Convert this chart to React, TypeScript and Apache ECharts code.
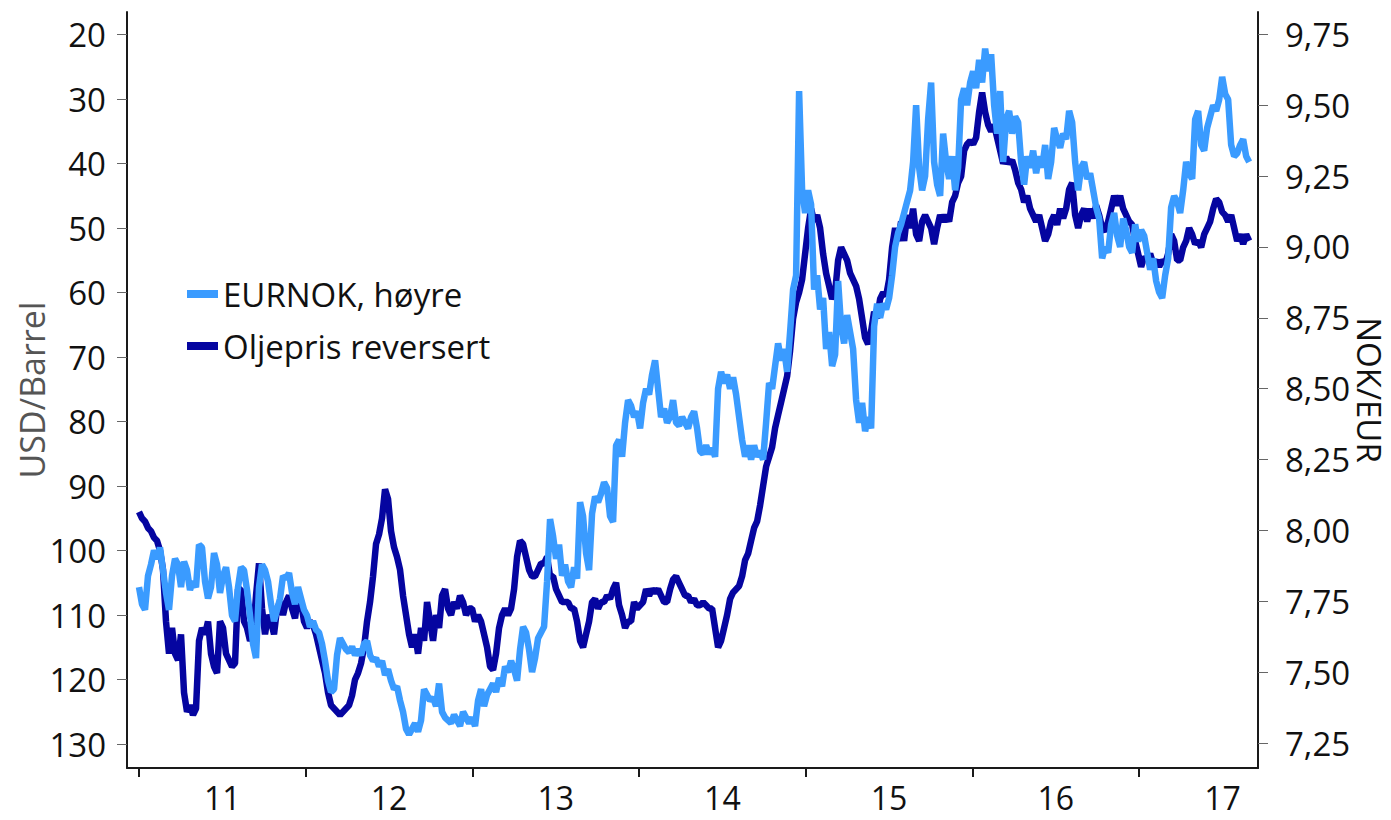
import React, { useEffect, useRef } from "react";
import * as echarts from "echarts";

// Observation dates: decimal years, start of 2011 with a fixed sampling step
const START_YEAR = 2011.0;
const STEP_YEARS = 0.018;

// Oil price, USD/Barrel (plotted reversed, left axis)
const oilPrice: number[] = [
  94, 95, 95.5, 96.5, 97, 98, 98.5, 100, 103, 111,
  116, 112, 116, 117, 113, 122, 125, 124, 125.5, 124.5,
  114, 112, 113, 111, 116, 118, 119, 111, 112, 116,
  117, 118, 117.5, 106, 106, 111, 112, 114, 113, 107,
  102, 109, 113, 110, 111, 113, 109, 108, 110, 108,
  107, 109, 110.5, 107, 108, 111, 112, 111, 111.5, 113,
  115, 117, 119, 122, 124, 124.5, 125, 125.5, 125, 124.5,
  124, 122.5, 120, 119, 117.5, 115, 111, 108, 104, 99,
  97.5, 95, 90.5, 92, 97, 99.5, 101, 103, 107, 110,
  113, 115, 113, 116, 112, 114, 108, 111, 114, 110,
  112, 107, 106, 109, 110, 108, 109, 107, 108, 110,
  109, 109, 111, 110, 111, 113, 115, 118, 118.5, 116,
  112, 110, 109, 110, 109, 106, 101, 98.5, 99, 101,
  103, 104, 104, 103, 102, 102, 101, 104, 104, 106,
  107, 108, 108, 108, 109, 109, 111, 114, 115, 113,
  111, 108, 107.5, 109, 108, 108, 107, 107.5, 106, 105,
  108.5, 110, 112, 111, 111, 108, 109, 108.5, 108, 106,
  107, 106, 106.5, 106, 107, 108, 108, 106, 104.5, 104,
  105, 106, 107, 107, 108, 107.5, 108.5, 108.5, 108, 108.5,
  109, 109, 112, 115, 114, 112, 110, 107.5, 106.5, 106,
  105.5, 104, 101.5, 100.5, 98.5, 96.5, 95.5, 93, 90, 87,
  85.5, 84, 81, 79, 77, 75, 73, 69, 64, 61.5,
  60, 58, 54, 50, 47, 49, 48, 50, 54, 57,
  59, 61, 60, 55, 53, 54, 55, 57, 58, 59,
  61, 64, 67, 68, 66, 63, 64, 61, 60, 60.5,
  58, 53, 50, 52, 49, 52, 48, 50, 47, 51,
  52, 49, 48, 49, 50, 52.5, 50, 48, 49, 48,
  49, 46, 45, 43, 42, 38, 37, 36.5, 37, 36,
  32, 29, 32, 34, 35, 34, 36, 38, 40, 39,
  40, 39.5, 41, 43, 44, 46, 45, 47, 48, 49,
  48, 50, 52, 51, 49, 48, 49.5, 47, 48.5, 47,
  44, 43, 48, 50, 48, 47, 49, 47, 48.5, 46.5,
  48, 50, 50.5, 49, 47, 45, 46.5, 45, 47, 48,
  49, 49.5, 52, 54, 56, 54.5, 55, 54, 55.5, 55,
  56, 55, 55.5, 54, 51, 52, 55, 55, 53, 52,
  50, 51, 52.5, 52, 53, 51, 50, 49, 47, 45.5,
  46, 47.5, 48, 49, 48, 50, 52, 51, 52.5, 51,
  52,
];

// EURNOK, NOK per EUR (right axis)
const eurNok: number[] = [
  7.80, 7.74, 7.72, 7.84, 7.88, 7.93, 7.90, 7.94, 7.86, 7.78,
  7.72, 7.84, 7.90, 7.88, 7.80, 7.89, 7.86, 7.79, 7.82, 7.80,
  7.95, 7.94, 7.82, 7.76, 7.80, 7.92, 7.88, 7.78, 7.84, 7.87,
  7.80, 7.70, 7.68, 7.80, 7.87, 7.86, 7.79, 7.70, 7.60, 7.55,
  7.80, 7.88, 7.86, 7.82, 7.74, 7.68, 7.72, 7.76, 7.84, 7.83,
  7.85, 7.78, 7.74, 7.80, 7.76, 7.72, 7.70, 7.66, 7.68, 7.65,
  7.64, 7.60, 7.54, 7.47, 7.43, 7.44, 7.56, 7.62, 7.60, 7.58,
  7.57, 7.59, 7.56, 7.58, 7.56, 7.60, 7.61, 7.56, 7.54, 7.55,
  7.52, 7.54, 7.49, 7.51, 7.47, 7.44, 7.45, 7.40, 7.36, 7.30,
  7.28, 7.30, 7.32, 7.29, 7.33, 7.44, 7.42, 7.40, 7.41, 7.38,
  7.46, 7.36, 7.34, 7.33, 7.32, 7.35, 7.33, 7.31, 7.36, 7.34,
  7.32, 7.34, 7.31, 7.40, 7.44, 7.38, 7.42, 7.44, 7.46, 7.43,
  7.48, 7.45, 7.52, 7.50, 7.54, 7.51, 7.47, 7.58, 7.66, 7.64,
  7.58, 7.50, 7.55, 7.62, 7.64, 7.66, 7.82, 8.04, 7.98, 7.90,
  7.95, 7.84, 7.88, 7.82, 7.80, 7.87, 7.83, 8.10, 8.05, 7.92,
  7.86, 8.06, 8.12, 8.10, 8.13, 8.17, 8.15, 8.05, 8.03, 8.30,
  8.32, 8.26, 8.38, 8.46, 8.44, 8.40, 8.42, 8.36, 8.45, 8.50,
  8.48, 8.55, 8.60, 8.50, 8.40, 8.43, 8.38, 8.40, 8.46, 8.38,
  8.37, 8.40, 8.38, 8.36, 8.40, 8.42, 8.36, 8.28, 8.27, 8.30,
  8.27, 8.29, 8.26, 8.50, 8.56, 8.52, 8.55, 8.50, 8.54, 8.48,
  8.40, 8.32, 8.26, 8.30, 8.25, 8.30, 8.26, 8.28, 8.25, 8.38,
  8.52, 8.50, 8.58, 8.66, 8.60, 8.64, 8.56, 8.70, 8.85, 8.90,
  9.55, 9.20, 9.12, 9.20, 9.15, 8.85, 8.90, 8.78, 8.82, 8.64,
  8.70, 8.58, 8.62, 8.88, 8.72, 8.66, 8.76, 8.70, 8.64, 8.46,
  8.38, 8.45, 8.35, 8.40, 8.36, 8.72, 8.80, 8.75, 8.80, 8.78,
  8.82, 8.90, 9.00, 9.05, 9.08, 9.12, 9.16, 9.20, 9.30, 9.50,
  9.28, 9.20, 9.25, 9.45, 9.58, 9.30, 9.22, 9.18, 9.40, 9.30,
  9.24, 9.32, 9.20, 9.28, 9.52, 9.56, 9.50, 9.58, 9.62, 9.56,
  9.66, 9.58, 9.70, 9.62, 9.68, 9.50, 9.40, 9.55, 9.30, 9.45,
  9.48, 9.40, 9.46, 9.44, 9.30, 9.22, 9.32, 9.28, 9.34, 9.26,
  9.32, 9.28, 9.36, 9.24, 9.30, 9.42, 9.38, 9.35, 9.40, 9.38,
  9.48, 9.44, 9.30, 9.20, 9.28, 9.30, 9.24, 9.26, 9.20, 9.14,
  9.10, 8.96, 9.00, 8.98, 9.08, 9.12, 9.04, 9.00, 9.10, 9.06,
  9.00, 8.98, 9.08, 9.02, 9.06, 9.04, 8.98, 8.92, 8.96, 8.88,
  8.84, 8.82, 8.90, 8.96, 9.14, 9.18, 9.16, 9.12, 9.20, 9.30,
  9.26, 9.24, 9.45, 9.48, 9.36, 9.34, 9.42, 9.46, 9.50, 9.48,
  9.52, 9.60, 9.54, 9.52, 9.36, 9.32, 9.33, 9.36, 9.38, 9.32,
  9.30,
];

// Axis ticks
const yearTicks: number[] = [2011, 2012, 2013, 2014, 2015, 2016, 2017];
const yearLabelPositions: number[] = [2011.5, 2012.5, 2013.5, 2014.5, 2015.5, 2016.5, 2017.5];
const oilTicks: number[] = [20, 30, 40, 50, 60, 70, 80, 90, 100, 110, 120, 130];
const nokTicks: number[] = [7.25, 7.5, 7.75, 8.0, 8.25, 8.5, 8.75, 9.0, 9.25, 9.5, 9.75];

const SERIES_OIL = "Oljepris reversert";
const SERIES_NOK = "EURNOK, høyre";

const FONT = "'Open Sans', 'Noto Sans', sans-serif";

export default function App() {
  const ref = useRef<HTMLDivElement>(null);

  useEffect(() => {
    if (!ref.current) return;
    const chart = echarts.init(ref.current, undefined, { renderer: "svg" });

    const dateOf = (i: number) => START_YEAR + i * STEP_YEARS;
    const oilData = oilPrice.map((v, i) => [dateOf(i), v]);
    const nokData = eurNok.map((v, i) => [dateOf(i), v]);

    chart.setOption({
      animation: false,
      backgroundColor: "#ffffff",
      textStyle: { fontFamily: FONT },
      grid: {
        left: 127,
        right: 133,
        top: 12,
        bottom: 52,
        containLabel: false,
        outerBoundsMode: "none",
      },
      legend: {
        show: true,
        orient: "vertical",
        left: 182,
        top: 271,
        itemWidth: 31,
        itemHeight: 8,
        itemGap: 16,
        icon: "rect",
        data: [SERIES_NOK, SERIES_OIL],
        textStyle: {
          fontFamily: FONT,
          fontSize: 33,
          color: "#111111",
          lineHeight: 36,
        },
      },
      xAxis: {
        type: "value",
        min: 2010.928,
        max: 2017.713,
        axisLine: { show: true, onZero: false, lineStyle: { color: "#1a1a1a", width: 2 } },
        axisTick: {
          show: true,
          customValues: yearTicks,
          length: 9,
          lineStyle: { color: "#1a1a1a", width: 2 },
        },
        axisLabel: {
          show: true,
          customValues: yearLabelPositions,
          formatter: (v: number) => String(Math.floor(v) % 100),
          fontSize: 32,
          lineHeight: 32,
          color: "#111111",
          margin: 13,
          fontFamily: FONT,
        },
        splitLine: { show: false },
      },
      yAxis: [
        {
          type: "value",
          position: "left",
          inverse: true,
          min: 16.51,
          max: 133.72,
          name: "USD/Barrel",
          nameLocation: "middle",
          nameGap: 78,
          nameMoveOverlap: false,
          nameTextStyle: { fontSize: 34, lineHeight: 34, color: "#555555", fontFamily: FONT },
          axisLine: { show: true, onZero: false, lineStyle: { color: "#1a1a1a", width: 2 } },
          axisTick: {
            show: true,
            customValues: oilTicks,
            length: 10,
            lineStyle: { color: "#666666", width: 1 },
          },
          axisLabel: {
            show: true,
            customValues: oilTicks,
            fontSize: 33,
            color: "#111111",
            margin: 21,
            fontFamily: FONT,
          },
          splitLine: { show: false },
        },
        {
          type: "value",
          position: "right",
          min: 7.162,
          max: 9.829,
          name: "NOK/EUR",
          nameLocation: "middle",
          nameRotate: -90,
          nameGap: 95,
          nameMoveOverlap: false,
          nameTextStyle: { fontSize: 33, lineHeight: 33, color: "#111111", fontFamily: FONT },
          axisLine: { show: true, onZero: false, lineStyle: { color: "#1a1a1a", width: 2 } },
          axisTick: {
            show: true,
            customValues: nokTicks,
            length: 10,
            lineStyle: { color: "#666666", width: 1 },
          },
          axisLabel: {
            show: true,
            customValues: nokTicks,
            formatter: (v: number) => v.toFixed(2).replace(".", ","),
            fontSize: 33,
            color: "#111111",
            margin: 27,
            fontFamily: FONT,
          },
          splitLine: { show: false },
        },
      ],
      series: [
        {
          name: SERIES_OIL,
          type: "line",
          yAxisIndex: 0,
          data: oilData,
          showSymbol: false,
          symbol: "none",
          color: "#0505a0",
          lineStyle: { color: "#0505a0", width: 6.5 },
          z: 2,
        },
        {
          name: SERIES_NOK,
          type: "line",
          yAxisIndex: 1,
          data: nokData,
          showSymbol: false,
          symbol: "none",
          color: "#3a9bff",
          lineStyle: { color: "#3a9bff", width: 6.5 },
          z: 3,
        },
      ],
    });

    return () => chart.dispose();
  }, []);

  return (
    <div
      ref={ref}
      style={{ position: "fixed", left: 0, top: 0, width: 1391, height: 820, background: "#fff" }}
    />
  );
}
